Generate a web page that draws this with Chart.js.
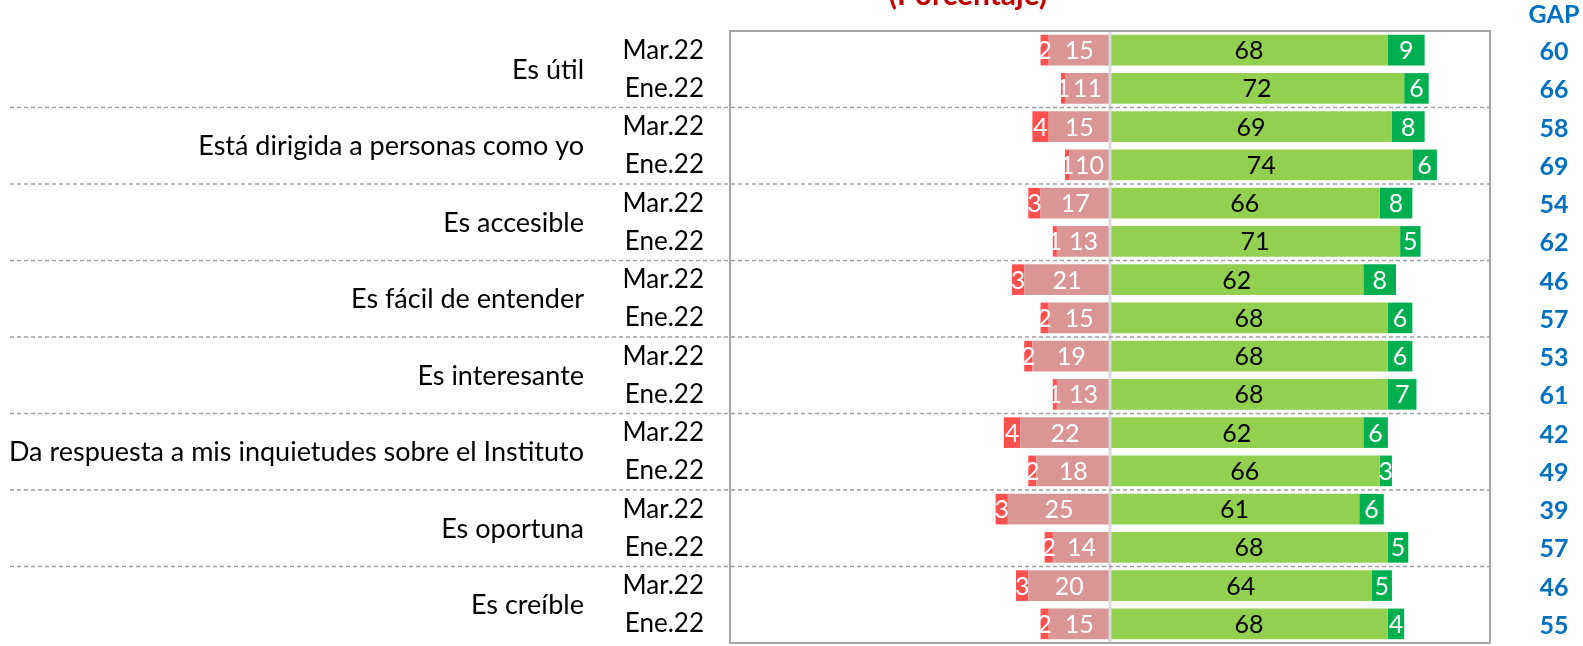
<!DOCTYPE html>
<html>
<head>
<meta charset="utf-8">
<script src="https://cdn.jsdelivr.net/npm/chart.js@4/dist/chart.umd.min.js"></script>
<style>
  html, body { margin: 0; padding: 0; background: #fff; overflow: hidden; }
  canvas { display: block; }
</style>
</head>
<body>
<canvas id="grafico" width="1583" height="646"></canvas>
<script>
const grupos = ['Es útil', 'Está dirigida a personas como yo', 'Es accesible', 'Es fácil de entender',
  'Es interesante', 'Da respuesta a mis inquietudes sobre el Instituto', 'Es oportuna', 'Es creíble'];
const periodos = ['Mar.22', 'Ene.22'];
const muyNegativo = [2, 1, 4, 1, 3, 1, 3, 2, 2, 1, 4, 2, 3, 2, 3, 2];
const negativo = [15, 11, 15, 10, 17, 13, 21, 15, 19, 13, 22, 18, 25, 14, 20, 15];
const positivo = [68, 72, 69, 74, 66, 71, 62, 68, 68, 68, 62, 66, 61, 68, 64, 68];
const muyPositivo = [9, 6, 8, 6, 8, 5, 8, 6, 6, 7, 6, 3, 6, 5, 5, 4];
const gap = [60, 66, 58, 69, 54, 62, 46, 57, 53, 61, 42, 49, 39, 57, 46, 55];
const titulo = '(Porcentaje)';

const fuente = 'Lato, "Noto Sans", sans-serif';
const filas = grupos.flatMap(() => periodos);

// dibuja separadores, linea central, marco, etiquetas y columna GAP
const extras = {
  id: 'extras',
  afterDatasetsDraw(chart) {
    const { ctx, chartArea: ca, scales: { x, y } } = chart;
    ctx.save();
    // linea del cero
    ctx.strokeStyle = '#d9d9d9';
    ctx.lineWidth = 3;
    ctx.beginPath();
    ctx.moveTo(x.getPixelForValue(0), ca.top);
    ctx.lineTo(x.getPixelForValue(0), ca.bottom);
    ctx.stroke();

    // valores dentro de las barras
    ctx.font = '25px ' + fuente;
    ctx.textAlign = 'center';
    ctx.textBaseline = 'middle';
    chart.data.datasets.forEach((ds, di) => {
      const meta = chart.getDatasetMeta(di);
      meta.data.forEach((bar, i) => {
        ctx.fillStyle = ds.colorTexto;
        ctx.fillText(Math.abs(ds.data[i]), (bar.x + bar.base) / 2, bar.y + 1);
      });
    });

    // separadores punteados entre grupos
    ctx.strokeStyle = '#9e9e9e';
    ctx.lineWidth = 1.3;
    ctx.setLineDash([4, 3]);
    for (let g = 1; g < grupos.length; g++) {
      const yy = (y.getPixelForValue(g * 2 - 1) + y.getPixelForValue(g * 2)) / 2;
      ctx.beginPath();
      ctx.moveTo(10, yy);
      ctx.lineTo(ca.right, yy);
      ctx.stroke();
    }
    ctx.setLineDash([]);

    // marco
    ctx.strokeStyle = '#a6a6a6';
    ctx.lineWidth = 2;
    ctx.strokeRect(ca.left, ca.top, ca.right - ca.left, ca.bottom - ca.top);

    // nombres de grupo
    ctx.fillStyle = '#000';
    ctx.font = '27px ' + fuente;
    ctx.textAlign = 'right';
    grupos.forEach((g, i) => {
      const yy = (y.getPixelForValue(i * 2) + y.getPixelForValue(i * 2 + 1)) / 2;
      ctx.fillText(g, 584, yy + 1);
    });

    // columna GAP
    ctx.fillStyle = '#0070c0';
    ctx.textAlign = 'center';
    ctx.font = 'bold 25px ' + fuente;
    ctx.fillText('GAP', 1554, 15);
    gap.forEach((v, i) => {
      ctx.fillText(v, 1554, y.getPixelForValue(i) + 2);
    });

    // titulo (cortado arriba)
    ctx.fillStyle = '#c00000';
    ctx.font = 'bold 30px ' + fuente;
    ctx.textBaseline = 'alphabetic';
    ctx.fillText(titulo, 968, 5);
    ctx.restore();
  }
};

const canvas = document.getElementById('grafico');
let chart;
try {
  chart = new Chart(canvas, {
    type: 'bar',
    data: {
      labels: filas,
      datasets: [
        { label: 'Negativo', data: negativo.map(v => -v), backgroundColor: '#da9694', colorTexto: '#fff' },
        { label: 'Muy negativo', data: muyNegativo.map(v => -v), backgroundColor: '#ff5050', colorTexto: '#fff' },
        { label: 'Positivo', data: positivo, backgroundColor: '#92d050', colorTexto: '#000' },
        { label: 'Muy positivo', data: muyPositivo, backgroundColor: '#00b050', colorTexto: '#fff' },
      ],
    },
    options: {
      indexAxis: 'y',
      responsive: false,
      animation: false,
      devicePixelRatio: 1,
      layout: { padding: { left: 0, right: 93, top: 31, bottom: 3 } },
      datasets: { bar: { barPercentage: 0.8, categoryPercentage: 1 } },
      plugins: { legend: { display: false }, tooltip: { enabled: false } },
      scales: {
        x: { stacked: true, display: false, min: -93, max: 93 },
        y: {
          stacked: true,
          grid: { display: false, drawTicks: false },
          border: { display: false },
          ticks: { color: '#000', padding: 26, font: { family: fuente, size: 26 } },
          afterFit: (s) => { s.width = 730; s.paddingTop = 0; s.paddingBottom = 0; },
        },
      },
    },
    plugins: [extras],
  });
} catch (error) {
  console.log(error);
}
</script>
</body>
</html>
